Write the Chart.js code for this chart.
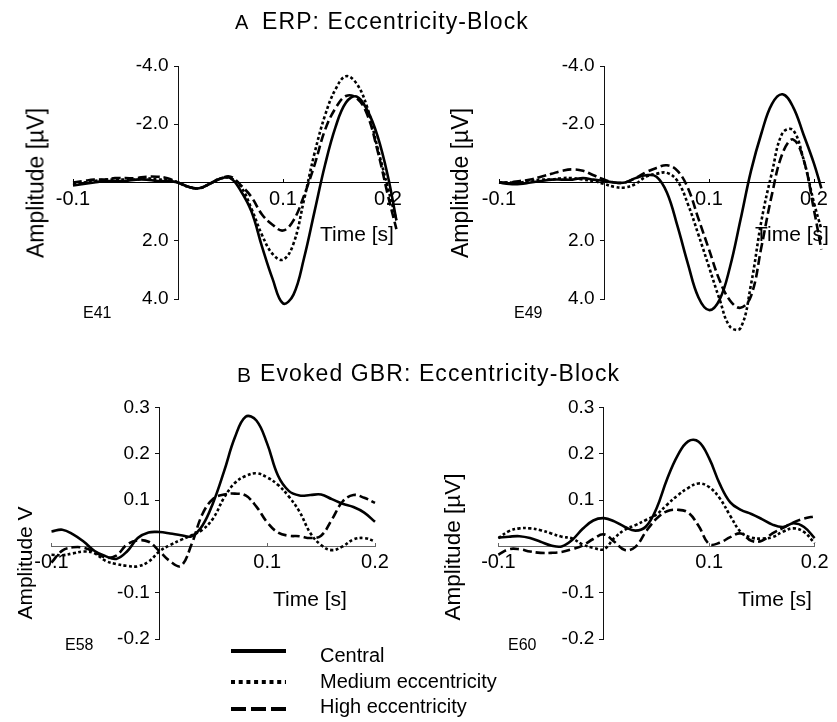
<!DOCTYPE html>
<html>
<head>
<meta charset="utf-8">
<script src="https://cdn.jsdelivr.net/npm/chart.js@4.4.1/dist/chart.umd.min.js"></script>
<style>
html,body{margin:0;padding:0;background:#fff;}
body{width:837px;height:722px;position:relative;overflow:hidden;font-family:"Liberation Sans",Arial,Helvetica,sans-serif;color:#000;}
canvas.layer{position:absolute;left:0;top:0;}
.t{position:absolute;white-space:nowrap;line-height:1;}
.rot{position:absolute;white-space:nowrap;line-height:1;transform:translate(-50%,-50%) rotate(-90deg);}
</style>
</head>
<body>
<canvas id="cE41" class="layer" width="837" height="722"></canvas>
<canvas id="cE49" class="layer" width="837" height="722"></canvas>
<canvas id="cE58" class="layer" width="837" height="722"></canvas>
<canvas id="cE60" class="layer" width="837" height="722"></canvas>

<div class="t" style="left:235px;top:12px;font-size:20px;">A</div>
<div class="t" style="left:262px;top:9.8px;font-size:23px;letter-spacing:1.1px;">ERP: Eccentricity-Block</div>
<div class="t" style="left:237px;top:364px;font-size:21px;">B</div>
<div class="t" style="left:260px;top:362px;font-size:23px;letter-spacing:1.1px;">Evoked GBR: Eccentricity-Block</div>

<div class="rot" style="left:36px;top:183px;font-size:23px;">Amplitude [µV]</div>
<div class="rot" style="left:460px;top:183px;font-size:23px;">Amplitude [µV]</div>
<div class="rot" style="left:24px;top:563px;font-size:21px;">Amplitude V</div>
<div class="rot" style="left:453px;top:547px;font-size:22.5px;">Amplitude [µV]</div>

<div class="t" style="left:320px;top:222.7px;font-size:21px;">Time [s]</div>
<div class="t" style="left:755px;top:222.7px;font-size:21px;">Time [s]</div>
<div class="t" style="left:273px;top:587.7px;font-size:21px;">Time [s]</div>
<div class="t" style="left:738px;top:587.7px;font-size:21px;">Time [s]</div>

<div class="t" style="left:83px;top:304.5px;font-size:16px;">E41</div>
<div class="t" style="left:514px;top:304.5px;font-size:16px;">E49</div>
<div class="t" style="left:65px;top:636.5px;font-size:16px;">E58</div>
<div class="t" style="left:508px;top:636.5px;font-size:16px;">E60</div>

<svg style="position:absolute;left:225px;top:640px;" width="70" height="80">
  <line x1="6" y1="11" x2="61" y2="11" stroke="#000" stroke-width="4"/>
  <line x1="6" y1="42" x2="61" y2="42" stroke="#000" stroke-width="4" stroke-dasharray="4 3.7"/>
  <line x1="6" y1="69" x2="61" y2="69" stroke="#000" stroke-width="4" stroke-dasharray="15 5"/>
</svg>
<div class="t" style="left:320px;top:645px;font-size:20px;">Central</div>
<div class="t" style="left:320px;top:671px;font-size:20px;">Medium eccentricity</div>
<div class="t" style="left:320px;top:696px;font-size:20px;">High eccentricity</div>

<script>
// ---------- DATA ----------
const seriesNames = ['Central', 'Medium eccentricity', 'High eccentricity'];

// ERP, electrode E41 (µV, time in s)
const timeE41 = [-0.1,-0.09,-0.08,-0.07,-0.06,-0.05,-0.04,-0.03,-0.02,-0.01,0,0.01,0.02,0.03,0.04,0.05,0.06,0.07,0.08,0.09,0.1,0.11,0.12,0.13,0.14,0.15,0.16,0.17,0.18,0.19,0.2,0.208];
const e41Central = [0.1,0.05,0.0,-0.05,-0.05,-0.05,-0.1,-0.1,-0.05,-0.05,0.0,0.15,0.2,0.05,-0.13,-0.15,0.3,1.0,2.2,3.3,4.15,3.85,2.6,1.0,-0.6,-1.9,-2.75,-2.95,-2.5,-1.6,-0.2,1.3];
const e41Medium  = [0.05,0.0,-0.05,-0.1,-0.1,-0.1,-0.1,-0.15,-0.1,-0.1,0.0,0.15,0.2,0.05,-0.13,-0.15,0.15,0.9,1.8,2.45,2.65,2.1,0.6,-1.0,-2.3,-3.2,-3.65,-3.4,-2.6,-1.2,0.2,1.3];
const e41High    = [0.0,-0.05,-0.1,-0.1,-0.15,-0.15,-0.15,-0.2,-0.2,-0.15,0.0,0.15,0.2,0.05,-0.13,-0.2,0.1,0.5,1.1,1.45,1.65,1.3,0.45,-0.6,-1.8,-2.55,-2.97,-2.9,-2.35,-1.1,0.45,1.6];

// ERP, electrode E49
const timeE49 = [-0.1,-0.09,-0.08,-0.07,-0.06,-0.05,-0.04,-0.03,-0.02,-0.01,0,0.01,0.02,0.03,0.04,0.05,0.06,0.07,0.08,0.09,0.1,0.11,0.12,0.13,0.14,0.15,0.16,0.17,0.18,0.19,0.2,0.207];
const e49Central = [0.0,0.05,0.05,0.0,-0.05,-0.1,-0.1,-0.1,-0.15,-0.1,-0.05,0.0,0.0,-0.15,-0.25,-0.2,0.35,1.5,2.8,3.95,4.38,4.03,2.9,1.28,-0.4,-1.7,-2.7,-3.03,-2.6,-1.65,-0.65,0.2];
const e49Medium  = [0.0,0.0,0.0,-0.05,-0.1,-0.1,-0.15,-0.15,-0.1,-0.05,0.05,0.15,0.17,0.05,-0.2,-0.3,-0.33,-0.05,0.75,1.8,2.9,4.0,4.95,5.0,3.5,1.3,-0.35,-1.7,-1.8,-0.8,0.7,1.6];
const e49High    = [0.0,0.0,-0.05,-0.1,-0.2,-0.3,-0.4,-0.45,-0.4,-0.25,-0.1,0.0,0.0,-0.15,-0.35,-0.5,-0.59,-0.4,0.2,1.25,2.3,3.35,4.05,4.3,3.9,2.2,0.4,-1.0,-1.48,-0.8,0.95,2.3];

// Evoked GBR, electrodes E58 and E60
const timeGBR = [-0.1,-0.09,-0.08,-0.07,-0.06,-0.05,-0.04,-0.03,-0.02,-0.01,0,0.01,0.02,0.03,0.04,0.05,0.06,0.07,0.08,0.09,0.1,0.11,0.12,0.13,0.14,0.15,0.16,0.17,0.18,0.19,0.2];
const e58Central = [0.032,0.036,0.026,0.01,-0.01,-0.021,-0.027,-0.011,0.018,0.03,0.031,0.028,0.024,0.022,0.045,0.095,0.162,0.235,0.28,0.272,0.222,0.153,0.12,0.11,0.111,0.112,0.102,0.092,0.085,0.073,0.053];
const e58Medium  = [-0.018,-0.019,-0.015,-0.011,-0.015,-0.031,-0.038,-0.042,-0.043,-0.033,-0.011,0.003,0.014,0.024,0.036,0.061,0.105,0.137,0.152,0.158,0.149,0.133,0.108,0.075,0.029,0.003,-0.008,0.0,0.015,0.018,0.011];
const e58High    = [-0.035,-0.009,-0.002,-0.003,-0.012,-0.024,-0.02,0.004,0.013,0.01,-0.01,-0.032,-0.042,0.005,0.07,0.103,0.112,0.114,0.11,0.086,0.052,0.03,0.023,0.022,0.018,0.023,0.058,0.097,0.111,0.105,0.094];
const e60Central = [0.019,0.021,0.022,0.018,0.01,0.002,0.0,0.014,0.038,0.056,0.061,0.054,0.042,0.034,0.043,0.082,0.145,0.196,0.227,0.226,0.19,0.135,0.095,0.079,0.07,0.059,0.047,0.042,0.05,0.042,0.018];
const e60Medium  = [0.018,0.033,0.039,0.039,0.035,0.028,0.021,0.017,0.004,-0.003,-0.006,0.018,0.036,0.046,0.057,0.069,0.09,0.11,0.126,0.136,0.128,0.104,0.066,0.031,0.019,0.017,0.02,0.032,0.039,0.031,0.007];
const e60High    = [-0.018,-0.006,-0.006,-0.011,-0.014,-0.014,-0.012,-0.006,0.002,0.016,0.026,0.01,-0.008,-0.001,0.032,0.06,0.076,0.079,0.073,0.044,0.005,0.008,0.02,0.028,0.012,0.012,0.028,0.04,0.052,0.06,0.065];

// Tick values and labels
const timeTicks = [-0.1, 0.1, 0.2];
const timeTickLabels = ['-0.1', '0.1', '0.2'];
const erpTicks = [-4, -2, 2, 4];
const erpTickLabels = ['-4.0', '-2.0', '2.0', '4.0'];
const gbrTicks = [0.3, 0.2, 0.1, -0.1, -0.2];
const gbrTickLabels = ['0.3', '0.2', '0.1', '-0.1', '-0.2'];

// ---------- CHARTS ----------
const FONT = '"Liberation Sans", Arial, Helvetica, sans-serif';
const W = 837, H = 722;
const styles = [
  {dash: [], width: 2.6},
  {dash: [3, 2.4], width: 2.6},
  {dash: [9, 4], width: 2.6}
];

function makePanel(id, area, time, seriesList, xMin, xMax, yMin, yMax, reverse, yTicks, yLabels, xAxisColor) {
  const datasets = seriesList.map((vals, k) => ({
    label: seriesNames[k],
    data: time.map((t, i) => ({x: t, y: vals[i]})),
    borderColor: '#000',
    borderWidth: styles[k].width,
    borderDash: styles[k].dash,
    pointRadius: 0,
    fill: false,
    tension: 0.4,
    clip: false
  }));
  return new Chart(document.getElementById(id), {
    type: 'line',
    data: {datasets},
    options: {
      responsive: false,
      animation: false,
      events: [],
      layout: {padding: {left: area.left, top: area.top, right: W - area.right, bottom: H - area.bottom}},
      plugins: {legend: {display: false}, tooltip: {enabled: false}, title: {display: false}},
      scales: {
        x: {
          type: 'linear', min: xMin, max: xMax,
          position: {y: 0},
          afterFit(s) { s.height = 0; },
          afterBuildTicks(s) { s.ticks = timeTicks.map(v => ({value: v})); },
          ticks: {
            autoSkip: false, maxRotation: 0, minRotation: 0,
            callback: (v, i) => timeTickLabels[i],
            font: {family: FONT, size: 20}, color: '#000', padding: 8.5
          },
          grid: {drawOnChartArea: false, drawTicks: true, tickLength: -4, color: xAxisColor, tickColor: xAxisColor},
          border: {display: true, color: xAxisColor, width: 1}
        },
        y: {
          type: 'linear', min: yMin, max: yMax, reverse: reverse,
          position: {x: 0},
          afterFit(s) { s.width = 0; },
          afterBuildTicks(s) { s.ticks = yTicks.map(v => ({value: v})); },
          ticks: {
            autoSkip: false,
            callback: (v, i) => yLabels[i] + '\u2002',
            font: {family: FONT, size: 19}, color: '#000', padding: 0
          },
          grid: {drawOnChartArea: false, drawTicks: true, tickLength: 4, color: '#111', tickColor: '#111'},
          border: {display: true, color: '#111', width: 1}
        }
      }
    }
  });
}

makePanel('cE41', {left: 73, right: 398.5, top: 66, bottom: 299}, timeE41,
  [e41Central, e41Medium, e41High], -0.1, 0.21, -4, 4, true, erpTicks, erpTickLabels, '#000');
makePanel('cE49', {left: 499, right: 824.5, top: 66, bottom: 299}, timeE49,
  [e49Central, e49Medium, e49High], -0.1, 0.21, -4, 4, true, erpTicks, erpTickLabels, '#000');
makePanel('cE58', {left: 51.5, right: 375, top: 407.5, bottom: 639}, timeGBR,
  [e58Central, e58Medium, e58High], -0.1, 0.2, -0.2, 0.3, false, gbrTicks, gbrTickLabels, '#666');
makePanel('cE60', {left: 498.4, right: 823.3, top: 407.5, bottom: 639}, timeGBR,
  [e60Central, e60Medium, e60High], -0.1, 0.2, -0.2, 0.3, false, gbrTicks, gbrTickLabels, '#666');
</script>
</body>
</html>
